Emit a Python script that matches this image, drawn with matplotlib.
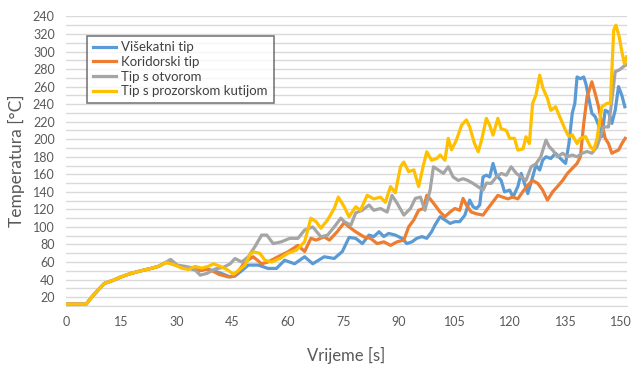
import numpy as np
import matplotlib.pyplot as plt
from matplotlib.ticker import FixedLocator, FixedFormatter, MultipleLocator

# Zajednički početni dio (sve četiri krivulje se preklapaju do ~27 s)
t_ramp = [0, 5.5, 7, 8.7, 10.4, 12.7, 14.9, 17.6, 20.3, 23, 25, 27]
temp_ramp = [12, 12, 20, 28, 35.6, 39, 43, 47, 50, 52.7, 55, 59.5]

# Višekatni tip
t_blue = [28, 30, 32, 34, 36, 38, 40, 42, 44.4, 45.7, 47.5, 49.3, 52, 54.6, 56.9,
          59.1, 61.8, 64.5, 66.7, 69.8, 72.5, 74.7, 76.5, 78.3, 80.1, 81.9, 83.2,
          84.6, 85.9, 87.2, 89, 90.8, 92.1, 93.5, 94.8, 96.2, 97.5, 98.8, 99.7,
          101.1, 102.4, 103.8, 105.1, 106.4, 107.8, 109.1, 110, 110.9, 111.8,
          112.7, 113.6, 114.5, 115.4, 116.3, 117.6, 118.5, 119.9, 120.8, 122.1,
          123, 123.9, 124.8, 126.1, 127, 128, 128.8, 129.7, 131, 132.3, 133.6,
          135, 135.9, 136.8, 137.5, 138.1, 139, 139.9, 140.5, 141.3, 142.1, 143,
          143.9, 144.8, 145.7, 146.6, 147.5, 148.4, 149.3, 150.2, 151]
temp_blue = [60, 56, 54, 52, 50, 52, 50, 47, 43, 44, 50, 56.5, 56.5, 52.7, 52.7,
             62, 58, 66, 58, 66, 64, 72, 88, 87, 81, 90.7, 89,
             94.5, 89, 92.6, 90.7, 87, 81, 83, 87, 89, 87, 94.5, 102,
             111.6, 108, 104, 106, 106, 113.5, 130.6, 123, 121, 125,
             157, 159, 157, 172.4, 159, 153, 140, 142, 134, 146,
             161, 149.6, 138, 157, 170.5, 164.8, 176, 180, 178, 184, 178,
             172.4, 195, 229.5, 241, 271, 269, 271, 263, 246, 229.5, 225.7,
             216, 203, 233, 231, 218, 233, 260, 250, 237]

# Koridorski tip
t_orange = [28, 30, 32, 34, 36, 38, 40, 41.3, 43.9, 45.7, 48.4, 50.6, 52.9, 54.6,
            57.3, 60, 62.7, 64.5, 66.2, 67.6, 69.8, 71.2, 73.4, 75.2, 76.5, 78.3,
            80.5, 82.3, 84.1, 85.9, 87.7, 89.5, 91.3, 92.6, 94, 95.3, 96.6, 97.5,
            98.4, 99.7, 101.1, 102.4, 103.8, 105.1, 106.4, 107.3, 108.2, 109.5,
            110.9, 112.7, 114, 115.4, 116.7, 118, 119.4, 120.7, 122.1, 123.4,
            124.8, 126.1, 127.5, 128.8, 130.1, 131.5, 132.8, 134.2, 135.5, 136.8,
            138.1, 139, 139.9, 140.8, 141.4, 142.1, 143, 143.9, 144.8, 145.7,
            146.6, 147.5, 148.4, 149.3, 150.2, 151.1]
temp_orange = [59, 56, 54, 53, 50, 52, 49, 46, 43, 44.5, 60, 66, 58, 60,
               66, 71.6, 79, 72, 87, 85, 88.7, 85, 95, 105, 100, 94.5,
               88.7, 87, 81, 83, 79, 83, 85, 100, 108, 119, 121, 136,
               132, 125, 117, 111.6, 117, 121, 119, 132.5, 125, 117,
               115, 113.5, 121, 128.7, 136, 134, 132, 134, 132, 140,
               147.6, 153, 149.6, 142, 130.6, 140, 146, 153, 161, 166.7,
               172.4, 180, 218, 248.4, 256, 265.5, 252, 237, 218, 201,
               195, 184, 186, 187.6, 195, 201]

# Tip s otvorom
t_grey = [28.3, 30.1, 32.3, 34.5, 36.3, 38.1, 40.3, 42.6, 44.4, 45.7, 47.5, 49.3,
          51, 52.9, 54.3, 56, 58.2, 60.5, 62.7, 64.5, 66.7, 68.9, 70.7, 72.5,
          74.3, 75.2, 77, 78.3, 80.1, 81.9, 83.2, 85, 86.8, 88.1, 89.5, 91.3,
          93.1, 94.4, 95.8, 97, 98.4, 99.3, 100.6, 102, 103.3, 104.6, 106, 107.3,
          108.6, 110, 111.3, 112.7, 113.6, 114.9, 116.3, 117.6, 119, 120.3, 121.7,
          123, 124.3, 125.7, 127, 128.3, 129.7, 130.6, 131.5, 132.8, 134.2, 135.5,
          136.8, 138.1, 139.5, 140.8, 142.1, 143.5, 144.4, 145.3, 146.6, 147.5,
          148.4, 149.5, 150.7, 151.5]
temp_grey = [63, 56.5, 55, 53, 45, 47, 52, 54, 58, 64, 60, 66,
             77, 90.7, 90.7, 81, 83, 87, 87, 96.4, 100, 88.7, 90.7, 100,
             110, 106, 102, 116, 119, 125, 119, 121, 117, 136, 127, 113.5,
             121, 132.5, 134, 119, 142, 168.6, 165, 161, 168.6, 157, 153, 155,
             153, 149.6, 146, 142, 150, 149.6, 157, 161, 159, 168.6, 161,
             157, 153, 168.6, 172, 180, 199, 191.4, 187.6, 180, 184, 180,
             182, 180, 184, 186, 184, 191.4, 203, 214, 214, 244.6,
             277, 279, 283, 285]

# Tip s prozorskom kutijom
t_yellow = [29.5, 31.3, 33.1, 34.9, 36.7, 38.5, 39.9, 41.7, 43.5, 45.3, 47.1,
            48.4, 49.7, 50.6, 52.4, 53.8, 55.6, 57.8, 60, 62.3, 64.5, 66.2, 67.6,
            68.9, 70.7, 72.5, 73.6, 75.2, 76.5, 78.3, 79.6, 81.4, 83.2, 85, 86.3,
            87.7, 89, 90.4, 91.3, 92.6, 94, 95.3, 96.6, 97.5, 98.8, 100.2, 101.1,
            102.4, 103.3, 104.2, 105.5, 106.9, 108.2, 109.1, 110.4, 111.4, 112.3,
            113.6, 114.5, 115.4, 116.7, 117.6, 119, 119.9, 121.2, 122.1, 123.5,
            124.3, 125.2, 126.1, 127, 128, 128.9, 130.1, 131, 132.3, 133.6, 135,
            135.9, 136.8, 138.1, 139, 140.4, 141.7, 142.6, 143.5, 144.8, 146.2,
            147.1, 148, 148.6, 149.5, 150.2, 150.9, 151.5]
temp_yellow = [56.5, 53, 51.5, 55, 53, 55, 58, 55, 51.5, 46, 52,
               56.5, 68, 71.6, 70, 62, 60, 64, 70, 73.6, 83, 110, 106,
               98.5, 108, 121, 134, 123, 111.6, 123, 119, 136, 132, 134, 128,
               146, 139, 168.6, 174, 163, 165, 146, 170.5, 185.7, 176, 178, 182,
               176, 201, 188, 199, 216, 222, 214, 195, 185.7, 199,
               223.8, 216, 204.7, 223.8, 212, 210, 201, 201, 187.6, 189,
               202.8, 195, 240.8, 250.3, 273, 258, 246.5, 233, 237, 223.8, 210,
               203, 205, 195, 201, 203, 191.4, 187.6, 201, 237, 241,
               241, 324.4, 330, 316.6, 299.7, 286, 294]

series = [
    ("Višekatni tip", t_blue, temp_blue, "#5B9BD5"),
    ("Koridorski tip", t_orange, temp_orange, "#ED7D31"),
    ("Tip s otvorom", t_grey, temp_grey, "#A5A5A5"),
    ("Tip s prozorskom kutijom", t_yellow, temp_yellow, "#FFC000"),
]

y_ticks = list(range(20, 341, 20))
y_tick_labels = [str(v) for v in y_ticks[:-1]] + ["240"]
x_ticks = list(range(0, 151, 15))

plt.rcParams['font.family'] = ['Lato', 'DejaVu Sans']

fig = plt.figure(figsize=(6.33, 3.65), dpi=100)
ax = fig.add_axes([0.104, 0.162, 0.886, 0.793])

for label, t, temp, color in series:
    ax.plot(t_ramp + t, temp_ramp + temp, color=color, lw=2.3, label=label,
            solid_joinstyle='round')

ax.set_xlim(0, 151.5)
ax.set_ylim(10, 340)
ax.xaxis.set_major_locator(FixedLocator(x_ticks))
ax.yaxis.set_major_locator(FixedLocator(y_ticks))
ax.yaxis.set_major_formatter(FixedFormatter(y_tick_labels))
ax.yaxis.set_minor_locator(MultipleLocator(10))

ax.grid(axis='y', which='both', color='#D9D9D9', lw=1)
ax.set_axisbelow(True)
for side in ['top', 'right', 'left']:
    ax.spines[side].set_visible(False)
ax.spines['bottom'].set_color('#D9D9D9')
ax.tick_params(which='both', length=0, colors='#595959', labelsize=9)
ax.tick_params(axis='x', pad=7)
ax.tick_params(axis='y', pad=8)

ax.set_xlabel('Vrijeme [s]', fontsize=12, color='#595959', labelpad=14)
ax.set_ylabel('Temperatura [°C]', fontsize=12.5, color='#595959', labelpad=6)

leg = ax.legend(loc='upper left', bbox_to_anchor=(0.038, 0.934), borderaxespad=0,
                fontsize=9.5, frameon=True, fancybox=False, handlelength=1.7,
                handletextpad=0.45, labelspacing=0.2, borderpad=0.45)
leg.get_frame().set_edgecolor('#595959')
leg.get_frame().set_linewidth(1.2)
for txt in leg.get_texts():
    txt.set_color('#404040')

fig.savefig('out.png', dpi=100)
